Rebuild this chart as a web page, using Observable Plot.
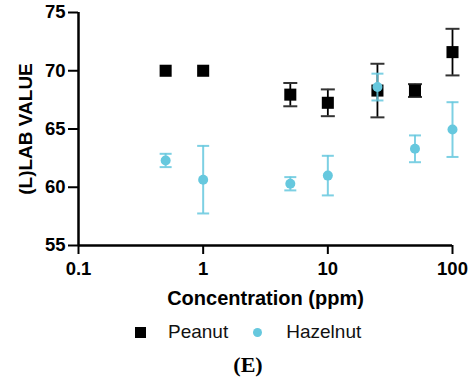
<!DOCTYPE html>
<html>
<head>
<meta charset="utf-8">
<script src="https://cdn.jsdelivr.net/npm/d3@7"></script>
<script src="https://cdn.jsdelivr.net/npm/@observablehq/plot@0.6"></script>
<style>
  html, body { margin: 0; padding: 0; background: #fff; }
  body { width: 468px; height: 383px; overflow: hidden; font-family: "Liberation Sans", Arial, sans-serif; }
  #legend { height: 40px; display: flex; align-items: center; font-size: 19px; color: #111; }
  #legend .sq { width: 11px; height: 11px; background: #000; margin-left: 135px; }
  #legend .lab1 { margin-left: 22px; }
  #legend .ci { width: 9px; height: 9px; border-radius: 50%; background: #66C8DE; margin-left: 25px; }
  #legend .lab2 { margin-left: 24px; }
  #caption { text-align: center; font-family: "Liberation Serif", "Times New Roman", serif; font-weight: bold; font-size: 22px; padding-left: 28px; line-height: 24px; margin-top: 1px; }
</style>
</head>
<body>
<div id="chart"></div>
<div id="legend"><div class="sq"></div><span class="lab1">Peanut</span><div class="ci"></div><span class="lab2">Hazelnut</span></div>
<div id="caption">(E)</div>
<script>
const concentrations = [0.5, 1, 5, 10, 25, 50, 100];
const peanutMean = [70.0, 70.0, 67.95, 67.25, 68.3, 68.3, 71.6];
const peanutErr  = [0, 0, 1.0, 1.15, 2.3, 0.55, 2.0];
const hazelMean  = [62.3, 60.65, 60.3, 61.0, 68.6, 63.3, 64.95];
const hazelErr   = [0.57, 2.9, 0.57, 1.7, 1.15, 1.15, 2.35];
const xTicks = [0.1, 1, 10, 100];
const yTicks = [55, 60, 65, 70, 75];

const peanut = concentrations.map((c, i) => ({x: c, y: peanutMean[i], lo: peanutMean[i] - peanutErr[i], hi: peanutMean[i] + peanutErr[i], e: peanutErr[i]}));
const hazel = concentrations.map((c, i) => ({x: c, y: hazelMean[i], lo: hazelMean[i] - hazelErr[i], hi: hazelMean[i] + hazelErr[i], e: hazelErr[i]}));
const peanutE = peanut.filter(d => d.e > 0);

const capSymbol = {
  draw(context, size) {
    const w = Math.sqrt(size / Math.PI);
    context.moveTo(-w, 0);
    context.lineTo(w, 0);
  }
};

const black = "#000";
const blue = "#66C8DE";
const font = "'Liberation Sans', Arial, sans-serif";

const chart = Plot.plot({
  width: 468,
  height: 312,
  marginLeft: 78,
  marginRight: 16,
  marginTop: 12,
  marginBottom: 67,
  style: {fontFamily: font, background: "#fff", overflow: "visible"},
  x: {type: "log", domain: [0.1, 100]},
  y: {domain: [55, 75]},
  marks: [
    Plot.axisY({ticks: yTicks, tickSize: 10, tickPadding: 3, tickFormat: d => String(d), fontSize: 18.5, fontWeight: "bold", stroke: black, strokeWidth: 2, label: null, fill: black}),
    Plot.axisX({ticks: xTicks, tickSize: 9, tickPadding: 7, tickFormat: d => String(d), fontSize: 18.5, fontWeight: "bold", stroke: black, strokeWidth: 2, label: null, fill: black}),
    Plot.ruleY([55], {stroke: black, strokeWidth: 2.5}),
    Plot.ruleX([0.1], {stroke: black, strokeWidth: 2.5}),
    // Peanut error bars
    Plot.ruleX(peanutE, {x: "x", y1: "lo", y2: "hi", stroke: black, strokeWidth: 1.8}),
    Plot.dot(peanutE, {x: "x", y: "hi", symbol: capSymbol, r: 7, stroke: "#333", strokeWidth: 2}),
    Plot.dot(peanutE, {x: "x", y: "lo", symbol: capSymbol, r: 7, stroke: "#333", strokeWidth: 2}),
    Plot.dot(peanut, {x: "x", y: "y", symbol: "square", r: 6.8, fill: black, stroke: "none"}),
    // Hazelnut error bars
    Plot.ruleX(hazel, {x: "x", y1: "lo", y2: "hi", stroke: blue, strokeOpacity: 0.85, strokeWidth: 2}),
    Plot.dot(hazel, {x: "x", y: "hi", symbol: capSymbol, r: 6, stroke: blue, strokeOpacity: 0.85, strokeWidth: 2}),
    Plot.dot(hazel, {x: "x", y: "lo", symbol: capSymbol, r: 6, stroke: blue, strokeOpacity: 0.85, strokeWidth: 2}),
    Plot.dot(hazel, {x: "x", y: "y", r: 5, fill: blue, stroke: "none"}),
    // Axis titles
    Plot.text(["(L)LAB VALUE"], {frameAnchor: "left", dx: -53, rotate: -90, fontSize: 19, fontWeight: "bold", fill: black, textAnchor: "middle"}),
    Plot.text(["Concentration (ppm)"], {frameAnchor: "bottom", dy: 53, fontSize: 20, fontWeight: "bold", fill: black, textAnchor: "middle", lineAnchor: "middle"})
  ]
});
document.getElementById("chart").appendChild(chart);
</script>
</body>
</html>
